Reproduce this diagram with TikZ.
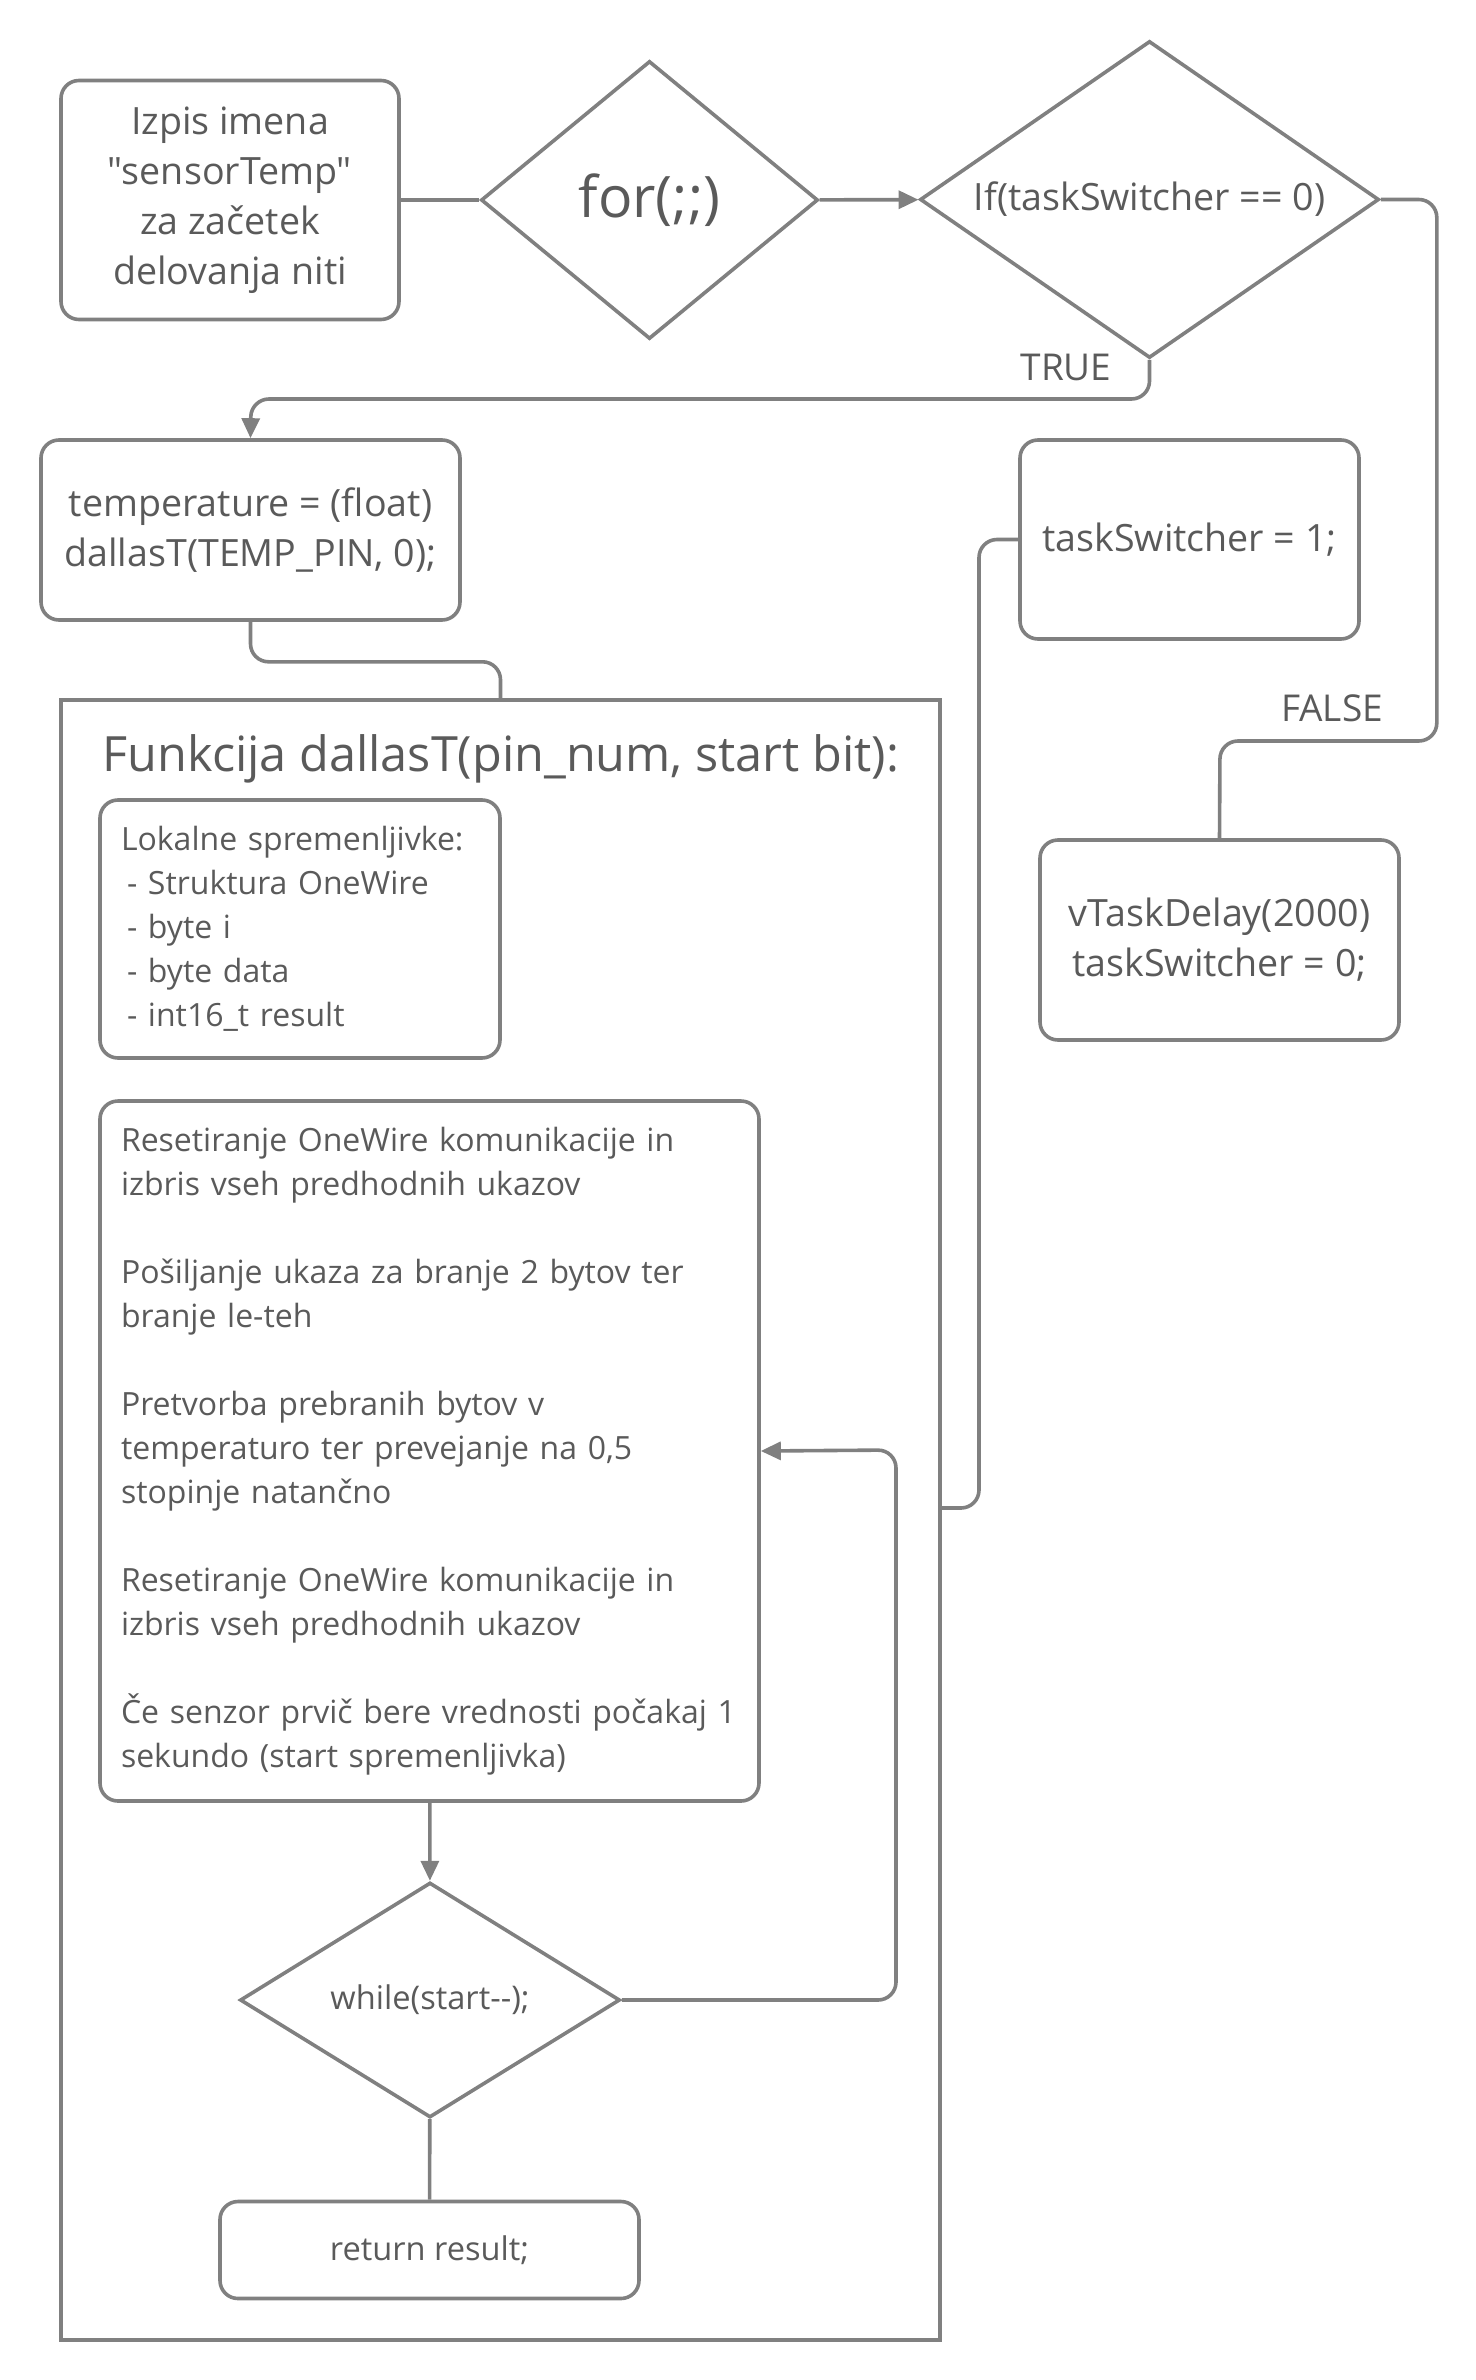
\documentclass[tikz,border=0pt]{standalone}
\usepackage{fontspec}
\setmainfont{Open Sans}[Ligatures=TeXOff]
\usetikzlibrary{shapes.geometric,arrows.meta}
\definecolor{linegray}{HTML}{808080}
\definecolor{textgray}{HTML}{5A5A5A}

\begin{document}
\begin{tikzpicture}[x=0.5pt, y=-0.5pt, line width=1.8pt, draw=linegray, text=textgray,
  box/.style={draw, rounded corners=9pt, align=center, inner sep=0pt, font=\fontsize{18.8}{25}\selectfont},
  txtbox/.style={draw, rounded corners=9pt, align=left, inner xsep=10.5pt, font=\fontsize{16}{22}\selectfont},
  dec/.style={draw, diamond, inner sep=0pt, align=center},
  arr/.style={-{Triangle[length=10pt,width=9pt]}},
  lbl/.style={font=\fontsize{18.5}{20}\selectfont}
  ]
  \useasboundingbox (0,0) rectangle (1476,2380);

  % glavna zanka
  \node[box, minimum width=169pt, minimum height=119.5pt] (izpis) at (230,200)
    {Izpis imena\\"sensorTemp"\\za začetek\\delovanja niti};
  \node[dec, minimum width=168.5pt, minimum height=139pt, font=\fontsize{28.6}{32}\selectfont] (for) at (649.5,200) {for(;;)};
  \node[dec, shape aspect=1.45, minimum width=229.5pt, minimum height=158.5pt, font=\fontsize{18.8}{20}\selectfont] (if) at (1149.5,199.5) {If(taskSwitcher == 0)};
  \node[box, minimum width=209.5pt, minimum height=90pt] (temp) at (250.5,530)
    {temperature = (float)\\dallasT(TEMP\_PIN, 0);};
  \node[box, minimum width=169.5pt, minimum height=99.5pt] (ts1) at (1189.5,539.5) {taskSwitcher = 1;};
  \node[box, minimum width=179.5pt, minimum height=100pt] (vt) at (1219.5,940)
    {vTaskDelay(2000)\\taskSwitcher = 0;};

  % funkcija dallasT
  \node[draw, minimum width=439.5pt, minimum height=820pt] (frame) at (500.5,1520) {};
  \node[anchor=west, inner sep=0pt, font=\fontsize{24.3}{28}\selectfont] (naslov) at (101,759)
    {Funkcija dallasT(pin\_num, start bit):};
  \node[txtbox, minimum width=200pt, minimum height=129pt, text width=179pt] (lokalne) at (300,929)
    {Lokalne spremenljivke:\\
     \hspace{3pt}- Struktura OneWire\\
     \hspace{3pt}- byte i\\
     \hspace{3pt}- byte data\\
     \hspace{3pt}- int16\_t result};
  \node[txtbox, minimum width=329.5pt, minimum height=350pt, text width=308.5pt] (koraki) at (429.5,1451)
    {Resetiranje OneWire komunikacije in\\izbris vseh predhodnih ukazov\\[22pt]
     Pošiljanje ukaza za branje 2 bytov ter\\branje le-teh\\[22pt]
     Pretvorba prebranih bytov v\\temperaturo ter prevejanje na 0,5\\stopinje natančno\\[22pt]
     Resetiranje OneWire komunikacije in\\izbris vseh predhodnih ukazov\\[22pt]
     Če senzor prvič bere vrednosti počakaj 1\\sekundo (start spremenljivka)};
  \node[dec, minimum width=190pt, minimum height=117.5pt, font=\fontsize{16.3}{20}\selectfont] (while) at (430,2000) {while(start-{}-);};
  \node[box, minimum width=209.5pt, minimum height=48.5pt, font=\fontsize{16.3}{20}\selectfont] (ret) at (429.5,2250) {return result;};

  \coordinate (tocka) at (251,399);
  \coordinate (lazno) at (1220,741);
  \coordinate (zanka) at (896,1450);
  \coordinate (vrnitev) at (979,1508);
  \coordinate (okvir) at (940,1508);

  \draw (izpis) -- (for);
  \draw[arr] (for) -- (if);
  \draw[arr, rounded corners=9pt] (if.south) |- (tocka) -- (temp.north);
  \draw[rounded corners=9pt] (temp.south) -- ++(0,40) -| (frame.north);
  \draw[rounded corners=9pt] (if.east) -- ++(56,0) |- (lazno) -- (vt.north);
  \draw[rounded corners=9pt] (ts1.west) -| (vrnitev) -- (okvir);
  \draw[arr] (koraki) -- (while);
  \draw (while) -- (ret);
  \draw[arr, rounded corners=9pt] (while.east) -| (zanka) -- (koraki.east);

  \node[lbl] (true) at (1066,367) {TRUE};
  \node[lbl] (false) at (1332,708) {FALSE};
\end{tikzpicture}
\end{document}
